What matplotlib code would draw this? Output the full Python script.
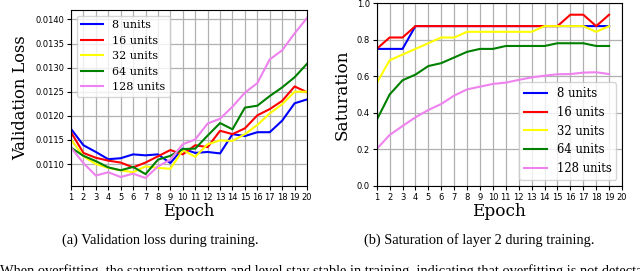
import numpy as np
import matplotlib
matplotlib.use("Agg")
import matplotlib.pyplot as plt

# ── Data ─────────────────────────────────────────────────────────────────────
epochs = np.arange(1, 21)
labels = ["8 units", "16 units", "32 units", "64 units", "128 units"]
colors = ["blue", "red", "yellow", "green", "violet"]

loss_8 = [0.01173, 0.01139, 0.01125, 0.01110, 0.01112, 0.01120, 0.01118, 0.01120, 0.01102, 0.01132,
          0.01123, 0.01125, 0.01122, 0.01162, 0.01158, 0.01166, 0.01166, 0.01190, 0.01226, 0.01234]
loss_16 = [0.01166, 0.01123, 0.01113, 0.01107, 0.01103, 0.01093, 0.01103, 0.01116, 0.01129, 0.01120,
           0.01139, 0.01135, 0.01169, 0.01162, 0.01174, 0.01201, 0.01214, 0.01231, 0.01261, 0.01249]
loss_32 = [0.01151, 0.01116, 0.01100, 0.01092, 0.01087, 0.01083, 0.01095, 0.01092, 0.01090, 0.01129,
           0.01115, 0.01141, 0.01149, 0.01148, 0.01162, 0.01181, 0.01205, 0.01224, 0.01250, 0.01250]
loss_64 = [0.01134, 0.01117, 0.01106, 0.01093, 0.01087, 0.01094, 0.01079, 0.01109, 0.01117, 0.01131,
           0.01132, 0.01159, 0.01185, 0.01172, 0.01217, 0.01221, 0.01241, 0.01259, 0.01280, 0.01308]
loss_128 = [0.01134, 0.01102, 0.01076, 0.01083, 0.01073, 0.01080, 0.01071, 0.01095, 0.01109, 0.01141,
            0.01151, 0.01184, 0.01194, 0.01219, 0.01248, 0.01268, 0.01317, 0.01336, 0.01371, 0.01403]

sat_epochs = np.arange(1, 20)
sat_8 = [0.75, 0.75, 0.75, 0.875, 0.875, 0.875, 0.875, 0.875, 0.875, 0.875,
         0.875, 0.875, 0.875, 0.875, 0.875, 0.875, 0.875, 0.875, 0.875]
sat_16 = [0.75, 0.8125, 0.8125, 0.875, 0.875, 0.875, 0.875, 0.875, 0.875, 0.875,
          0.875, 0.875, 0.875, 0.875, 0.875, 0.9375, 0.9375, 0.875, 0.9375]
sat_32 = [0.5625, 0.6875, 0.71875, 0.75, 0.78125, 0.8125, 0.8125, 0.84375, 0.84375, 0.84375,
          0.84375, 0.84375, 0.84375, 0.875, 0.875, 0.875, 0.875, 0.84375, 0.875]
sat_64 = [0.36, 0.5, 0.578, 0.609, 0.656, 0.672, 0.703, 0.734, 0.75, 0.75,
          0.766, 0.766, 0.766, 0.766, 0.781, 0.781, 0.781, 0.766, 0.766]
sat_128 = [0.201, 0.278, 0.327, 0.375, 0.415, 0.448, 0.494, 0.528, 0.543, 0.558,
           0.565, 0.580, 0.594, 0.603, 0.611, 0.612, 0.620, 0.622, 0.612]

loss_series = [loss_8, loss_16, loss_32, loss_64, loss_128]
sat_series = [sat_8, sat_16, sat_32, sat_64, sat_128]

# ── Figure ───────────────────────────────────────────────────────────────────
plt.rcParams["font.family"] = "DejaVu Serif"
fig = plt.figure(figsize=(6.4, 2.71), dpi=100)

ax1 = fig.add_axes([0.1109, 0.3137, 0.3688, 0.6494])
ax2 = fig.add_axes([0.5886, 0.3148, 0.3833, 0.6730])

def style_axis(ax, lab_size):
    ax.set_xlim(1, 20)
    ax.set_xticks(epochs)
    ax.grid(True, color="#b0b0b0", lw=0.9)
    ax.set_axisbelow(True)
    ax.tick_params(labelsize=6, length=3, pad=2)
    for t in ax.get_xticklabels() + ax.get_yticklabels():
        t.set_family("DejaVu Sans")
        t.set_weight("medium")
    ax.set_xlabel("Epoch", fontsize=lab_size, labelpad=1)
    for s in ax.spines.values():
        s.set_color("black")

for vals, c, lab in zip(loss_series, colors, labels):
    ax1.plot(epochs, vals, color=c, lw=1.5, label=lab)
ax1.set_yticks([0.0110, 0.0115, 0.0120, 0.0125, 0.0130, 0.0135, 0.0140])
ax1.set_yticklabels([f"{v:.4f}" for v in ax1.get_yticks()])
style_axis(ax1, 11.7)
ax1.set_ylabel("Validation Loss", fontsize=11.7)
ax1.legend(loc="upper left", fontsize=8, borderaxespad=0.5)

for vals, c, lab in zip(sat_series, colors, labels):
    ax2.plot(sat_epochs, vals, color=c, lw=1.5, label=lab)
ax2.set_ylim(0, 1)
ax2.set_yticks([0.0, 0.2, 0.4, 0.6, 0.8, 1.0])
ax2.set_yticklabels([f"{v:.1f}" for v in ax2.get_yticks()])
style_axis(ax2, 12.2)
ax2.set_ylabel("Saturation", fontsize=12.2)
ax2.legend(loc="lower right", fontsize=8.4, borderaxespad=0.5)

# captions + the clipped line of body text below
cap = dict(family="Liberation Serif", fontsize=10.4, ha="center", va="center")
fig.text(160.5 / 640, 1 - 240 / 271, "(a) Validation loss during training.", **cap)
fig.text(479 / 640, 1 - 240 / 271, "(b) Saturation of layer 2 during training.", **cap)
fig.text(0.0, -0.016,
         "When overfitting, the saturation pattern and level stay stable in training, "
         "indicating that overfitting is not detectable",
         family="Liberation Serif", fontsize=10.4, ha="left", va="baseline")

fig.savefig("out.png", dpi=100)
